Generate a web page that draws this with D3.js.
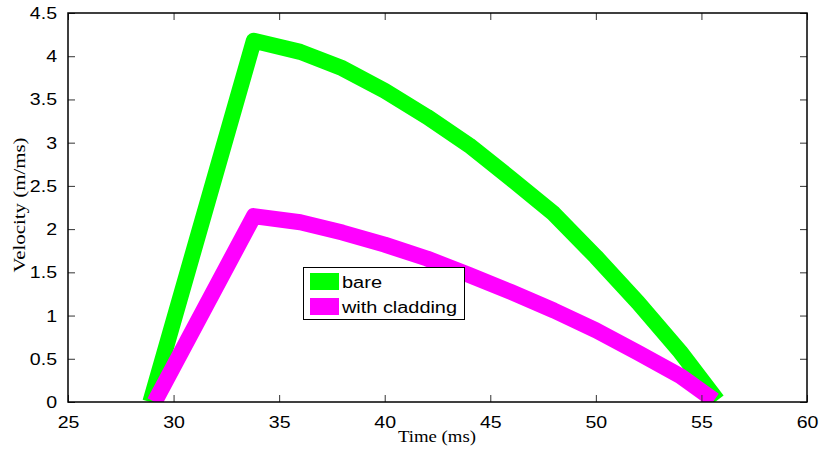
<!DOCTYPE html>
<html><head><meta charset="utf-8">
<script src="https://cdn.jsdelivr.net/npm/d3@7/dist/d3.min.js"></script>
<style>body{margin:0;background:#fff}svg{display:block}</style>
</head><body>
<svg id="c" width="819" height="450"></svg>
<script>
const bareX = [28.9, 33.8, 36, 38, 40, 42, 44, 46, 48, 50, 52, 54, 55.75];
const bareY = [0.0, 4.18, 4.05, 3.86, 3.6, 3.3, 2.97, 2.58, 2.18, 1.68, 1.15, 0.58, 0.02];
const cladX = [29.1, 33.8, 36, 38, 40, 42, 44, 46, 48, 50, 52, 54, 55.6];
const cladY = [0.0, 2.15, 2.08, 1.96, 1.82, 1.66, 1.47, 1.27, 1.06, 0.83, 0.57, 0.3, 0.02];
const seriesNames = ["bare", "with cladding"];
const seriesColors = ["#00ff00", "#ff00ff"];
const xTicks = [25, 30, 35, 40, 45, 50, 55, 60];
const yTicks = [0, 0.5, 1, 1.5, 2, 2.5, 3, 3.5, 4, 4.5];

const svg = d3.select("#c");
const L = 68, R = 807, T = 13, B = 402;
const x = d3.scaleLinear().domain([25, 60]).range([L, R]);
const y = d3.scaleLinear().domain([0, 4.5]).range([B, T]);

svg.append("defs").append("clipPath").attr("id", "clip")
  .append("rect").attr("x", L).attr("y", T).attr("width", R - L).attr("height", B - T);

const line = d3.line().x(d => x(d[0])).y(d => y(d[1]));
const series = [d3.zip(bareX, bareY), d3.zip(cladX, cladY)];
const g = svg.append("g").attr("clip-path", "url(#clip)");
series.forEach((s, i) => {
  g.append("path").datum(s).attr("d", line)
    .attr("fill", "none").attr("stroke", seriesColors[i])
    .attr("stroke-width", 16).attr("stroke-linejoin", "round").attr("stroke-linecap", "butt");
});

function stretch(sel, f) {
  sel.each(function () {
    const w = this.getComputedTextLength();
    d3.select(this).attr("textLength", w * f).attr("lengthAdjust", "spacingAndGlyphs");
  });
}

const tl = 7;
const fontTick = "'Liberation Sans', Arial, sans-serif";
const xAxisB = d3.axisBottom(x).tickValues(xTicks).tickSize(-tl).tickPadding(14).tickFormat(d3.format("d"));
const xAxisT = d3.axisTop(x).tickValues(xTicks).tickSize(-tl).tickFormat("");
const yAxisL = d3.axisLeft(y).tickValues(yTicks).tickSize(-tl).tickPadding(11).tickFormat(d => String(d));
const yAxisR = d3.axisRight(y).tickValues(yTicks).tickSize(-tl).tickFormat("");

function style(sel) {
  sel.select(".domain").remove();
  sel.selectAll(".tick line").attr("stroke", "#333").attr("stroke-width", 1);
  sel.selectAll(".tick text").attr("fill", "#000").style("font-family", fontTick).style("font-size", "17px")
    .call(stretch, 1.15);
}
svg.append("g").attr("transform", `translate(0,${B})`).call(xAxisB).call(style);
svg.append("g").attr("transform", `translate(0,${T})`).call(xAxisT).call(style);
svg.append("g").attr("transform", `translate(${L},0)`).call(yAxisL).call(style);
svg.append("g").attr("transform", `translate(${R},0)`).call(yAxisR).call(style);

svg.append("rect").attr("x", L).attr("y", T).attr("width", R - L).attr("height", B - T)
  .attr("fill", "none").attr("stroke", "#000").attr("stroke-width", 1.5);

svg.append("text").attr("x", 437).attr("y", 442).attr("text-anchor", "middle")
  .style("font-family", "'Liberation Serif', 'Times New Roman', serif").style("font-size", "16px")
  .attr("textLength", 78).attr("lengthAdjust", "spacingAndGlyphs")
  .text("Time (ms)");
svg.append("text").attr("transform", `translate(25,205) rotate(-90)`).attr("text-anchor", "middle")
  .style("font-family", "'Liberation Serif', 'Times New Roman', serif").style("font-size", "16px")
  .attr("textLength", 135).attr("lengthAdjust", "spacingAndGlyphs")
  .text("Velocity (m/ms)");

// legend
const lg = svg.append("g");
lg.append("rect").attr("x", 303.5).attr("y", 267.5).attr("width", 161).attr("height", 52)
  .attr("fill", "#fff").attr("stroke", "#000").attr("stroke-width", 1);
const legendLens = [40, 115];
seriesNames.forEach((n, i) => {
  lg.append("rect").attr("x", 310).attr("y", 273 + i * 25).attr("width", 29).attr("height", 17)
    .attr("fill", seriesColors[i]);
  lg.append("text").attr("x", 342).attr("y", 288 + i * 25)
    .style("font-family", fontTick).style("font-size", "16px")
    .attr("textLength", legendLens[i]).attr("lengthAdjust", "spacingAndGlyphs").text(n);
});
</script>
</body></html>
